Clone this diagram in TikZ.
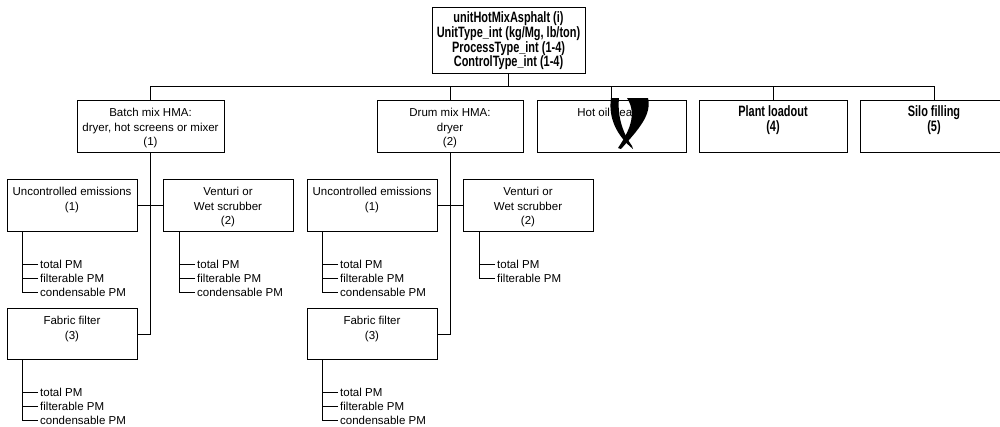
\documentclass[tikz,border=0pt]{standalone}
\usepackage{fontspec}
\setmainfont{Liberation Sans}
\newfontfamily\bfcond[FakeStretch=0.73]{Liberation Sans}
\tikzset{
  conn/.style={draw=black, line width=0.9pt},
  box/.style={draw=black, line width=1pt, rectangle, inner sep=0pt, anchor=north, align=center,
    font=\fontsize{11.5}{14.5}\selectfont},
  oneline/.style={text height=16pt, text depth=36pt},
  twolines/.style={text height=30.5pt, text depth=21.5pt},
  threelines/.style={text height=45pt, text depth=7pt},
  bbox/.style={box, font=\bfcond\bfseries\fontsize{15}{14.6}\selectfont},
  leaf/.style={anchor=west, inner xsep=2pt, inner ysep=0pt, font=\fontsize{11.5}{14}\selectfont,
    text height=8.2pt, text depth=0pt},
  glyph/.style={fill=black},
}
\newcommand\pmleaf[4]{\node[leaf] (#1) at (#2,#3) {#4};}
\begin{document}
\begin{tikzpicture}[x=1pt,y=-1pt]
\useasboundingbox (0,0) rectangle (1000,426);
\clip (0,0) rectangle (1000,426);

% root
\node[bbox, minimum width=153pt, text height=59.2pt, text depth=6.8pt] (top) at (508.5,7)
  {unitHotMixAsphalt (i)\\UnitType\_int (kg/Mg, lb/ton)\\ProcessType\_int (1-4)\\ControlType\_int (1-4)};

% level 1
\node[box, threelines, minimum width=147pt] (batch) at (150.5,100) {Batch mix HMA:\\dryer, hot screens or mixer\\(1)};
\node[box, threelines, minimum width=146pt] (drum) at (450,100) {Drum mix HMA:\\dryer\\(2)};
\node[box, oneline, minimum width=149pt] (hot) at (611.5,100) {Hot oil heater};
\node[bbox, minimum width=148pt, text height=31pt, text depth=21pt] (plant) at (773,100) {Plant loadout\\(4)};
\node[bbox, minimum width=148pt, text height=31pt, text depth=21pt] (silo) at (934,100) {Silo filling\\(5)};

% bus
\coordinate (bus) at (508.5,86);
\draw[conn] (top.south) -- (bus);
\draw[conn] (batch.north) |- (silo.north |- bus) -- (silo.north);
\draw[conn] (drum.north) -- (drum.north |- bus);
\draw[conn] (hot.north) -- (hot.north |- bus);
\draw[conn] (plant.north) -- (plant.north |- bus);

% glyph artefact in the hot oil heater box
\fill[glyph] (611,98) .. controls (608,118) and (617,136) .. (633,149) -- (632,146)
  .. controls (624,135) and (617,118) .. (619,98) -- cycle;
\fill[glyph] (627,98) -- (648,98) .. controls (652,115) and (638,130) .. (621,149) -- (618,148)
  .. controls (628,133) and (638,115) .. (627,98) -- cycle;

% level 2, batch
\node[box, twolines, minimum width=130pt] (unca) at (72,179) {Uncontrolled emissions\\(1)};
\node[box, threelines, minimum width=130pt] (vena) at (228,179) {Venturi or\\Wet scrubber\\(2)};
\node[box, twolines, minimum width=130pt, text depth=20.5pt] (faba) at (72,308) {Fabric filter\\(3)};
\draw[conn] (unca.east) -- (vena.west);
\draw[conn] (batch.south) |- (faba.east);

% level 2, drum
\node[box, twolines, minimum width=130pt] (uncb) at (372,179) {Uncontrolled emissions\\(1)};
\node[box, threelines, minimum width=130pt] (venb) at (528,179) {Venturi or\\Wet scrubber\\(2)};
\node[box, twolines, minimum width=130pt, text depth=20.5pt] (fabb) at (372,308) {Fabric filter\\(3)};
\draw[conn] (uncb.east) -- (venb.west);
\draw[conn] (drum.south) |- (fabb.east);

% leaves
\coordinate (ua) at ([xshift=16pt]unca.south west);
\pmleaf{ua1}{38}{264}{total PM}
\pmleaf{ua2}{38}{278}{filterable PM}
\pmleaf{ua3}{38}{292}{condensable PM}
\draw[conn] (ua) |- (ua3.west) (ua1.west) -- (ua1.west -| ua) (ua2.west) -- (ua2.west -| ua);

\coordinate (va) at ([xshift=17pt]vena.south west);
\pmleaf{va1}{195}{264}{total PM}
\pmleaf{va2}{195}{278}{filterable PM}
\pmleaf{va3}{195}{292}{condensable PM}
\draw[conn] (va) |- (va3.west) (va1.west) -- (va1.west -| va) (va2.west) -- (va2.west -| va);

\coordinate (fa) at ([xshift=16pt]faba.south west);
\pmleaf{fa1}{38}{392}{total PM}
\pmleaf{fa2}{38}{406}{filterable PM}
\pmleaf{fa3}{38}{420}{condensable PM}
\draw[conn] (fa) |- (fa3.west) (fa1.west) -- (fa1.west -| fa) (fa2.west) -- (fa2.west -| fa);

\coordinate (ub) at ([xshift=16pt]uncb.south west);
\pmleaf{ub1}{338}{264}{total PM}
\pmleaf{ub2}{338}{278}{filterable PM}
\pmleaf{ub3}{338}{292}{condensable PM}
\draw[conn] (ub) |- (ub3.west) (ub1.west) -- (ub1.west -| ub) (ub2.west) -- (ub2.west -| ub);

\coordinate (vb) at ([xshift=17pt]venb.south west);
\pmleaf{vb1}{495}{264}{total PM}
\pmleaf{vb2}{495}{278}{filterable PM}
\draw[conn] (vb) |- (vb2.west) (vb1.west) -- (vb1.west -| vb);

\coordinate (fb) at ([xshift=16pt]fabb.south west);
\pmleaf{fb1}{338}{392}{total PM}
\pmleaf{fb2}{338}{406}{filterable PM}
\pmleaf{fb3}{338}{420}{condensable PM}
\draw[conn] (fb) |- (fb3.west) (fb1.west) -- (fb1.west -| fb) (fb2.west) -- (fb2.west -| fb);
\end{tikzpicture}
\end{document}
